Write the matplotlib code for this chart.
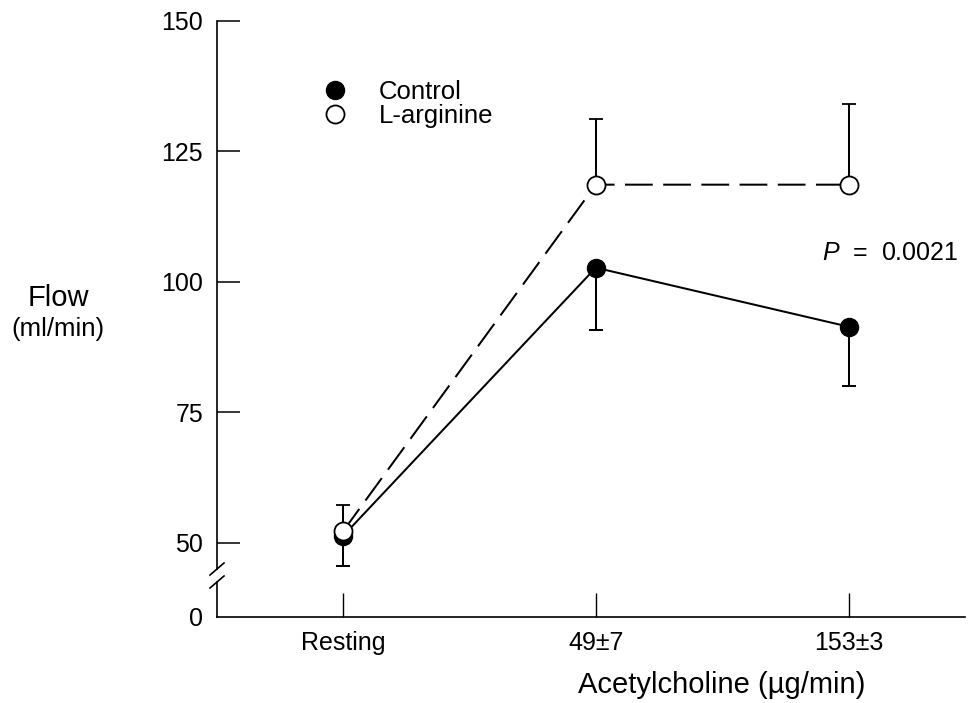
import matplotlib
matplotlib.use("Agg")
import matplotlib.pyplot as plt
from matplotlib.lines import Line2D
import numpy as np

plt.rcParams['font.family'] = ['Liberation Sans', 'DejaVu Sans']
plt.rcParams['mathtext.fontset'] = 'custom'
plt.rcParams['mathtext.it'] = 'Liberation Sans:italic'
plt.rcParams['mathtext.rm'] = 'Liberation Sans'
plt.rcParams['lines.scale_dashes'] = False

# data
doses = ['Resting', '49\u00b17', '153\u00b13']
control = [51.3, 102.7, 91.4]
control_sem = [5.8, 12.0, 11.4]
larginine = [52.2, 118.6, 118.6]
larginine_sem = [5.1, 12.5, 15.5]
p_text = '$P$  =  0.0021'

W, H = 969, 703
fig = plt.figure(figsize=(W / 100, H / 100), dpi=100)

# pixel layout of the two axes halves (broken y axis)
left, right = 217, 965
top_px, brk_top, brk_bot, base = 20.7, 569, 582, 617
ax = fig.add_axes([left / W, 1 - brk_top / H, (right - left) / W, (brk_top - top_px) / H])
axb = fig.add_axes([left / W, 1 - base / H, (right - left) / W, (base - brk_bot) / H], sharex=ax)

x = np.arange(len(doses))
ppu = (brk_top - top_px) / 105.0

ax.set_ylim(45, 150)
axb.set_ylim(0, (base - brk_bot) / ppu)
ax.set_xlim(-0.498, 2.46)

lw = 1.45
ms = 13
ax.errorbar(x, control, yerr=[control_sem, np.zeros(3)], color='black', lw=lw,
            marker='o', ms=ms, mfc='black', mec='black', capsize=5, capthick=lw,
            elinewidth=lw, zorder=3, clip_on=False)
eb = ax.errorbar(x, larginine, yerr=[np.zeros(3), larginine_sem], color='black', lw=lw,
                 marker='o', ms=ms, mfc='white', mec='black', mew=1.3, capsize=5,
                 capthick=lw, elinewidth=lw, zorder=4, clip_on=False)
eb.lines[0].set_dashes((20, 7.5))

ax.text(1.893, 105.6, p_text, fontsize=18, ha='left', va='center')

for a in (ax, axb):
    a.spines['top'].set_visible(False)
    a.spines['right'].set_visible(False)
    a.spines['left'].set_linewidth(1.2)
    a.spines['bottom'].set_linewidth(1.2)
ax.spines['bottom'].set_visible(False)
ax.tick_params(axis='x', bottom=False, labelbottom=False)
ax.set_yticks([50, 75, 100, 125, 150])
ax.tick_params(axis='y', direction='in', length=16.5, width=1.1, pad=10, labelsize=18)

axb.set_yticks([0])
axb.tick_params(axis='y', direction='in', length=0, pad=10, labelsize=18)
axb.set_xticks(x)
axb.set_xticklabels(doses)
axb.tick_params(axis='x', direction='in', length=17, width=1.0, pad=10, labelsize=18)
axb.set_xlabel('Acetylcholine (\u00b5g/min)', fontsize=21)
axb.xaxis.set_label_coords((722 - left) / (right - left), -1.55)

# break marks
dx = 7 / (right - left)
dyt = 6 / (brk_top - top_px)
dyb = 6 / (base - brk_bot)
ax.plot([-dx, dx], [-dyt, dyt], transform=ax.transAxes, color='black', lw=1.2, clip_on=False)
axb.plot([-dx, dx], [1 - dyb, 1 + dyb], transform=axb.transAxes, color='black', lw=1.2, clip_on=False)

fig.text(58 / W, 1 - 298 / H, 'Flow', fontsize=21, ha='center', va='center')
fig.text(58 / W, 1 - 329 / H, '(ml/min)', fontsize=18.5, ha='center', va='center')

handles = [Line2D([], [], ls='none', marker='o', ms=ms, mfc='black', mec='black'),
           Line2D([], [], ls='none', marker='o', ms=ms, mfc='white', mec='black', mew=1.3)]
ax.legend(handles, ['Control', 'L-arginine'], loc='upper left', frameon=False,
          bbox_to_anchor=((321 - left) / (right - left), 1 - (80 - top_px) / (brk_top - top_px)),
          borderpad=0, borderaxespad=0, handlelength=1.1, handletextpad=1.15,
          labelspacing=0.0, fontsize=18.5)

fig.savefig('out.png', dpi=100)
